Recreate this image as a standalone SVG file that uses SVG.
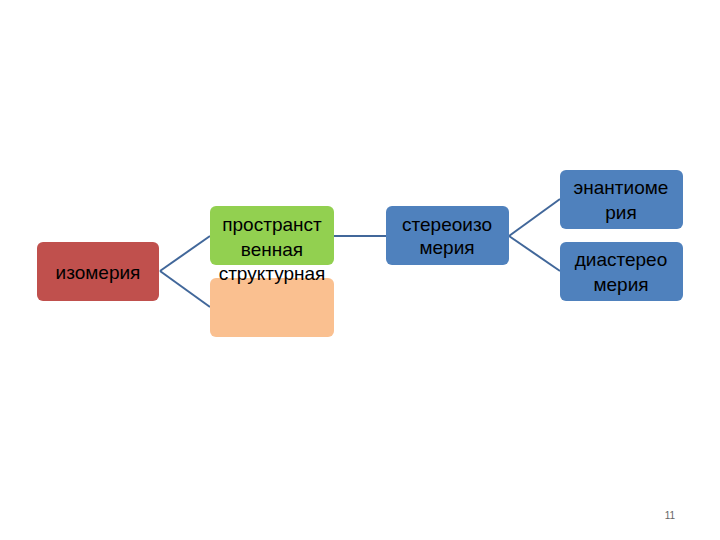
<svg xmlns="http://www.w3.org/2000/svg" width="720" height="540" viewBox="0 0 720 540">
<style>
.t{font-family:"Liberation Sans",Arial,sans-serif;font-size:19px;fill:#000;text-anchor:middle}
.c{stroke:#41679A;stroke-width:2;fill:none}
</style>
<rect width="720" height="540" fill="#fff"/>
<g id="connectors">
<path class="c" d="M160 271 L210 236"/>
<path class="c" d="M160 271 L210 307"/>
<path class="c" d="M334 236 L386 236"/>
<path class="c" d="M509 236 L560 199"/>
<path class="c" d="M509 236 L560 271"/>
</g>
<g id="izomeria"><rect x="37" y="242" width="122" height="59" rx="6" fill="#C0504D"/><text class="t" x="98" y="279" font-size="21">изомерия</text></g>
<g id="prostr"><rect x="210" y="206" width="124" height="59" rx="6" fill="#92D050"/><text class="t" x="272" y="231">пространст</text><text class="t" x="272" y="256">венная</text></g>
<g id="struct"><rect x="210" y="278" width="124" height="59" rx="6" fill="#FAC090"/><text class="t" x="272" y="280" font-size="15">структурная</text></g>
<g id="stereo"><rect x="386" y="206" width="123" height="59" rx="6" fill="#4F81BD"/><text class="t" x="447" y="231">стереоизо</text><text class="t" x="447" y="254">мерия</text></g>
<g id="enant"><rect x="560" y="170" width="123" height="59" rx="6" fill="#4F81BD"/><text class="t" x="621" y="194">энантиоме</text><text class="t" x="621" y="219">рия</text></g>
<g id="diast"><rect x="560" y="242" width="123" height="59" rx="6" fill="#4F81BD"/><text class="t" x="621" y="266">диастерео</text><text class="t" x="621" y="291">мерия</text></g>
<text x="670" y="519" font-family="Liberation Sans,sans-serif" font-size="10" fill="#666" text-anchor="middle">11</text>
</svg>
